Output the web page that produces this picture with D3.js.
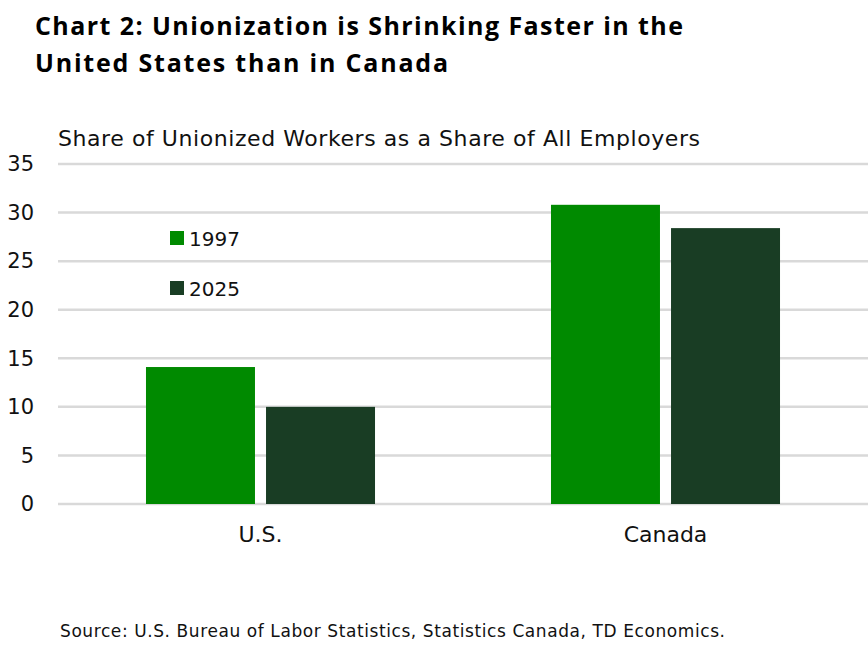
<!DOCTYPE html>
<html>
<head>
  <style>
  body { margin: 0; background: #fff; }
  #chart svg { font-family: 'DejaVu Sans', sans-serif; }
  </style>
</head>
<body>
  <script src="https://d3js.org/d3.v7.min.js"></script>
  <div id="chart"></div>
  <script>
    // data
    const categories = ['U.S.', 'Canada'];
    const seriesNames = ['1997', '2025'];
    const values1997 = [14.1, 30.8];
    const values2025 = [10.0, 28.4];
    const yTicks = [0, 5, 10, 15, 20, 25, 30, 35];
    const colors = ['#008a00', '#193d24'];

    const width = 868, height = 648;
    const margin = {top: 164, right: 0, bottom: 144, left: 58};

    const svg = d3.select('#chart').append('svg')
      .attr('width', width)
      .attr('height', height);

    const rows = categories.map((c, i) => ({cat: c, vals: [values1997[i], values2025[i]]}));

    const x0 = d3.scaleBand()
      .domain(categories)
      .range([margin.left, width - margin.right])
      .padding(0);

    const x1 = d3.scaleBand()
      .domain(seriesNames)
      .range([0, x0.bandwidth()])
      .paddingInner(0.092)
      .paddingOuter(0.733);

    const y = d3.scaleLinear()
      .domain([0, 35])
      .range([height - margin.bottom, margin.top]);

    // title, fitted to the reference width
    const title = svg.append('text')
      .style('font-family', "'Open Sans', sans-serif")
      .style('font-weight', 'bold')
      .style('font-size', '25px')
      .style('fill', '#000');
    title.append('tspan').attr('x', 35).attr('y', 35)
      .attr('textLength', 648).attr('lengthAdjust', 'spacing')
      .text('Chart 2: Unionization is Shrinking Faster in the');
    title.append('tspan').attr('x', 35).attr('y', 72)
      .attr('textLength', 413).attr('lengthAdjust', 'spacing')
      .text('United States than in Canada');

    svg.append('text')
      .attr('x', 58)
      .attr('y', 146)
      .attr('textLength', 642)
      .attr('lengthAdjust', 'spacing')
      .style('font-size', '22px')
      .style('fill', '#111')
      .text('Share of Unionized Workers as a Share of All Employers');

    // gridlines
    svg.append('g')
      .selectAll('line')
      .data(yTicks)
      .join('line')
      .attr('x1', margin.left)
      .attr('x2', width)
      .attr('y1', d => y(d))
      .attr('y2', d => y(d))
      .style('stroke', '#d9d9d9')
      .style('stroke-width', 2.5);

    // y axis
    const yAxis = svg.append('g')
      .attr('transform', `translate(${margin.left},0)`)
      .call(d3.axisLeft(y).tickValues(yTicks).tickSize(0).tickPadding(24));
    yAxis.select('.domain').remove();
    yAxis.selectAll('text')
      .style('font-size', '21px')
      .style('font-family', "'DejaVu Sans', sans-serif")
      .style('fill', '#111');

    // bars
    svg.append('g')
      .selectAll('g')
      .data(rows)
      .join('g')
      .attr('transform', d => `translate(${x0(d.cat)},0)`)
      .selectAll('rect')
      .data(d => d.vals.map((v, i) => ({key: seriesNames[i], v: v, i: i})))
      .join('rect')
      .attr('x', d => x1(d.key))
      .attr('width', x1.bandwidth())
      .attr('y', d => y(d.v))
      .attr('height', d => y(0) - y(d.v))
      .style('fill', d => colors[d.i]);

    // x axis labels
    const xAxis = svg.append('g')
      .attr('transform', `translate(0,${y(0)})`)
      .call(d3.axisBottom(x0).tickSize(0).tickPadding(22));
    xAxis.select('.domain').remove();
    xAxis.selectAll('text')
      .style('font-size', '22px')
      .style('font-family', "'DejaVu Sans', sans-serif")
      .style('fill', '#111');

    // legend
    const legend = svg.append('g')
      .selectAll('g')
      .data(seriesNames)
      .join('g')
      .attr('transform', (d, i) => `translate(170,${231 + i * 50})`);
    legend.append('rect')
      .attr('width', 14)
      .attr('height', 14)
      .style('fill', (d, i) => colors[i]);
    legend.append('text')
      .attr('x', 19)
      .attr('y', 15)
      .style('font-size', '20px')
      .style('fill', '#111')
      .text(d => d);

    // source
    svg.append('text')
      .attr('x', 60)
      .attr('y', 637)
      .attr('textLength', 665)
      .attr('lengthAdjust', 'spacing')
      .style('font-size', '17px')
      .style('fill', '#111')
      .text('Source: U.S. Bureau of Labor Statistics, Statistics Canada, TD Economics.');
  </script>
</body>
</html>
